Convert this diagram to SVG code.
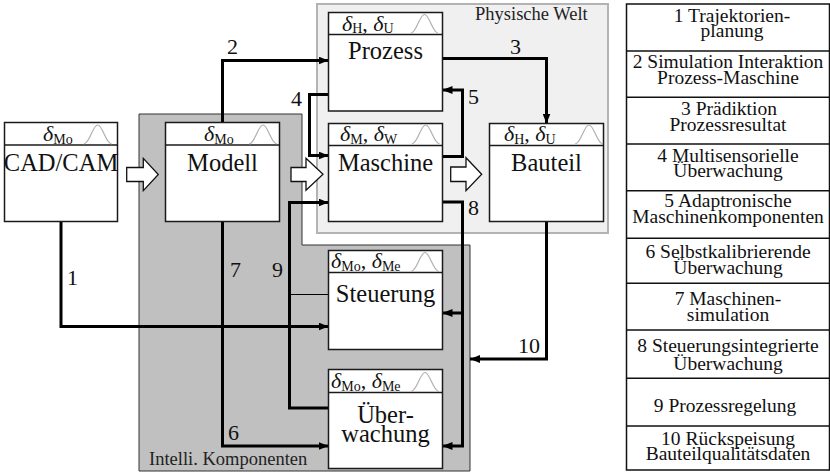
<svg xmlns="http://www.w3.org/2000/svg" xmlns:xlink="http://www.w3.org/1999/xlink" width="830" height="473" viewBox="0 0 830 473">
<style>
.box{fill:#fff;stroke:#1a1a1a;stroke-width:1.5}
.hl{stroke:#1a1a1a;stroke-width:1.5}
.t{font-family:"Liberation Serif",serif;font-size:24.5px;fill:#111;text-anchor:middle}
.d{font-family:"Liberation Serif",serif;font-size:22px;font-style:italic;fill:#111}
.s{font-size:14px;font-style:normal}
.n{font-style:normal}
.bell{fill:none;stroke:#b0b0b0;stroke-width:1.2}
.c{fill:none;stroke:#000;stroke-width:3}
.thin{fill:none;stroke:#000;stroke-width:1.2}
.lbl{font-family:"Liberation Serif",serif;font-size:22px;fill:#111}
.blk{fill:#fff;stroke:#111;stroke-width:1.3}
.area{font-family:"Liberation Serif",serif;font-size:18.5px;fill:#222}
.tab{font-family:"Liberation Serif",serif;font-size:19.5px;fill:#111;text-anchor:middle}
.tl{stroke:#111;stroke-width:1.5}
</style>
<defs>
<marker id="ah" markerUnits="userSpaceOnUse" markerWidth="10" markerHeight="8" refX="10" refY="4" orient="auto">
<path d="M0,0 L10,4 L0,8 z" fill="#000"/>
</marker>
<path id="bell" class="bell" d="M-14,19 C-8,19 -5,0 0,0 C5,0 8,19 14,19"/>
</defs>

<rect width="830" height="473" fill="#fff"/>

<g id="areas">
<polygon points="139,114 302,114 302,245 470,245 470,471 139,471" fill="#c0c0c0" stroke="#333" stroke-width="1"/>
<rect x="317" y="4" width="291" height="229" fill="#f0f0f0" stroke="#b3b3b3" stroke-width="2"/>
<text class="area" x="475" y="20">Physische Welt</text>
<text class="area" x="149" y="465">Intelli. Komponenten</text>
</g>

<g id="block-arrows">
<polygon class="blk" points="126.7,167.5 143.3,167.5 143.3,158.3 158.3,174.5 143.3,190.7 143.3,181.5 126.7,181.5"/>
<polygon class="blk" points="291,167.5 306,167.5 306,158.3 323,174.3 306,190.3 306,181.5 291,181.5"/>
<polygon class="blk" points="450.7,167 466,167 466,157.7 481.7,174.2 466,190.7 466,181.5 450.7,181.5"/>
</g>

<g id="connectors">
<path class="c" d="M61,222 V326.5 H328.5" marker-end="url(#ah)"/>
<path class="c" d="M222.5,122.5 V60.5 H328.5" marker-end="url(#ah)"/>
<path class="c" d="M442.5,58.5 H546.5 V123.5" marker-end="url(#ah)"/>
<path class="c" d="M328.5,94.5 H309.5 V155.5 H328.5" marker-end="url(#ah)"/>
<path class="c" d="M442.5,156.5 H462.5 V90 H442.5" marker-end="url(#ah)"/>
<path class="c" d="M222.5,222 V446 H328.5" marker-end="url(#ah)"/>
<path class="c" d="M442.5,202 H462.5 V446 H442.5" marker-end="url(#ah)"/>
<path class="c" d="M462.5,313 H442.5" marker-end="url(#ah)"/>
<path class="c" d="M328.5,408 H289.5 V202.5 H328.5" marker-end="url(#ah)"/>
<path class="thin" d="M289.5,294.5 H328.5"/>
<path class="c" d="M546.5,222 V359 H470" marker-end="url(#ah)"/>
<text class="lbl" x="67" y="285">1</text>
<text class="lbl" x="227" y="54">2</text>
<text class="lbl" x="510" y="53.5">3</text>
<text class="lbl" x="291" y="106">4</text>
<text class="lbl" x="468" y="104">5</text>
<text class="lbl" x="228" y="440">6</text>
<text class="lbl" x="230" y="277">7</text>
<text class="lbl" x="468" y="215">8</text>
<text class="lbl" x="272" y="277">9</text>
<text class="lbl" x="518" y="353">10</text>
</g>

<g id="cadcam">
<rect class="box" x="4.5" y="122.5" width="113" height="99"/>
<line class="hl" x1="4.5" y1="145" x2="117.5" y2="145"/>
<text class="d" x="43" y="141">δ<tspan class="s" dy="2.5">Mo</tspan></text>
<use xlink:href="#bell" x="97.7" y="125"/>
<text class="t" x="61" y="171">CAD/CAM</text>
</g>

<g id="modell">
<rect class="box" x="165.5" y="122.5" width="114" height="99"/>
<line class="hl" x1="165.5" y1="145" x2="279.5" y2="145"/>
<text class="d" x="204" y="141">δ<tspan class="s" dy="2.5">Mo</tspan></text>
<use xlink:href="#bell" x="263" y="125"/>
<text class="t" x="222.5" y="171">Modell</text>
</g>

<g id="prozess">
<rect class="box" x="328.5" y="12.5" width="114" height="98.5"/>
<line class="hl" x1="328.5" y1="34.5" x2="442.5" y2="34.5"/>
<text class="d" x="342" y="30.5">δ<tspan class="s" dy="2.5">H</tspan><tspan class="n" dy="-2.5">, </tspan>δ<tspan class="s" dy="2.5">U</tspan></text>
<use xlink:href="#bell" x="424.5" y="14.5"/>
<text class="t" x="385.5" y="58.5">Prozess</text>
</g>

<g id="maschine">
<rect class="box" x="328.5" y="123.5" width="114" height="98"/>
<line class="hl" x1="328.5" y1="145.5" x2="442.5" y2="145.5"/>
<text class="d" x="340" y="141">δ<tspan class="s" dy="2.5">M</tspan><tspan class="n" dy="-2.5">, </tspan>δ<tspan class="s" dy="2.5">W</tspan></text>
<use xlink:href="#bell" x="425.7" y="125"/>
<text class="t" x="385.5" y="170.7">Maschine</text>
</g>

<g id="bauteil">
<rect class="box" x="489.5" y="123.5" width="114" height="98"/>
<line class="hl" x1="489.5" y1="145.5" x2="603.5" y2="145.5"/>
<text class="d" x="504" y="141">δ<tspan class="s" dy="2.5">H</tspan><tspan class="n" dy="-2.5">, </tspan>δ<tspan class="s" dy="2.5">U</tspan></text>
<use xlink:href="#bell" x="589" y="125"/>
<text class="t" x="546.5" y="170.7">Bauteil</text>
</g>

<g id="steuerung">
<rect class="box" x="328.5" y="250.5" width="114" height="99"/>
<line class="hl" x1="328.5" y1="272.5" x2="442.5" y2="272.5"/>
<text class="d" x="331" y="268">δ<tspan class="s" dy="2.5">Mo</tspan><tspan class="n" dy="-2.5">, </tspan>δ<tspan class="s" dy="2.5">Me</tspan></text>
<use xlink:href="#bell" x="425" y="252.5"/>
<text class="t" x="385.5" y="301.7">Steuerung</text>
</g>

<g id="ueberwachung">
<rect class="box" x="328.5" y="369.5" width="114" height="99"/>
<line class="hl" x1="328.5" y1="392.5" x2="442.5" y2="392.5"/>
<text class="d" x="331" y="388">δ<tspan class="s" dy="2.5">Mo</tspan><tspan class="n" dy="-2.5">, </tspan>δ<tspan class="s" dy="2.5">Me</tspan></text>
<use xlink:href="#bell" x="425" y="372.5"/>
<text class="t" x="385.5" y="423.3">Über-</text>
<text class="t" x="385.5" y="442.3">wachung</text>
</g>

<g id="legend">
<rect x="626.5" y="4" width="203" height="466" fill="#fff" stroke="#111" stroke-width="1.5"/>
<line class="tl" x1="626.5" y1="51" x2="829.5" y2="51"/>
<line class="tl" x1="626.5" y1="97.3" x2="829.5" y2="97.3"/>
<line class="tl" x1="626.5" y1="144" x2="829.5" y2="144"/>
<line class="tl" x1="626.5" y1="190.7" x2="829.5" y2="190.7"/>
<line class="tl" x1="626.5" y1="238.3" x2="829.5" y2="238.3"/>
<line class="tl" x1="626.5" y1="283.3" x2="829.5" y2="283.3"/>
<line class="tl" x1="626.5" y1="330" x2="829.5" y2="330"/>
<line class="tl" x1="626.5" y1="378.3" x2="829.5" y2="378.3"/>
<line class="tl" x1="626.5" y1="426" x2="829.5" y2="426"/>
<text class="tab" x="732" y="21.5">1 Trajektorien-</text>
<text class="tab" x="732" y="37">planung</text>
<text class="tab" x="728" y="68.3">2 Simulation Interaktion</text>
<text class="tab" x="728" y="83.5">Prozess-Maschine</text>
<text class="tab" x="729" y="115">3 Prädiktion</text>
<text class="tab" x="728" y="131">Prozessresultat</text>
<text class="tab" x="728" y="161.7">4 Multisensorielle</text>
<text class="tab" x="728" y="176.7">Überwachung</text>
<text class="tab" x="728" y="207.3">5 Adaptronische</text>
<text class="tab" x="728" y="223.3">Maschinenkomponenten</text>
<text class="tab" x="728" y="258.3">6 Selbstkalibrierende</text>
<text class="tab" x="728" y="274">Überwachung</text>
<text class="tab" x="728" y="305">7 Maschinen-</text>
<text class="tab" x="728" y="320.7">simulation</text>
<text class="tab" x="728" y="351.7">8 Steuerungsintegrierte</text>
<text class="tab" x="728" y="370">Überwachung</text>
<text class="tab" x="725" y="411.5">9 Prozessregelung</text>
<text class="tab" x="728" y="445">10 Rückspeisung</text>
<text class="tab" x="728" y="460">Bauteilqualitätsdaten</text>
</g>
</svg>
